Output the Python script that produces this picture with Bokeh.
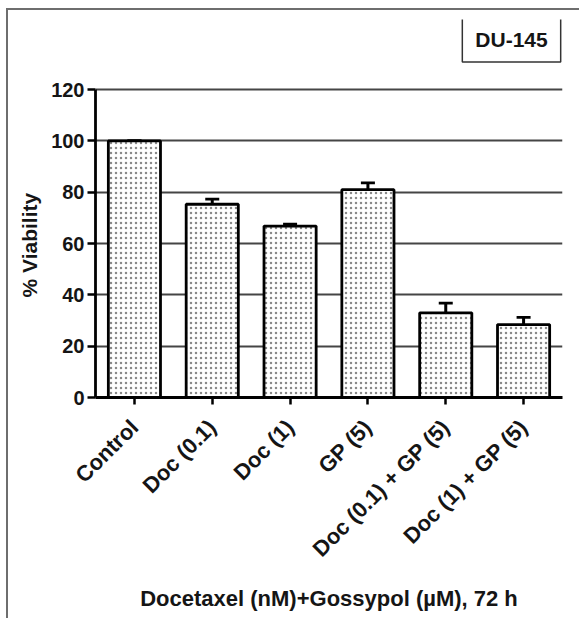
from bokeh.plotting import figure
from bokeh.models import (ColumnDataSource, FactorRange, Range1d, FixedTicker,
                          Whisker, TeeHead, Label, Title)
from bokeh.embed import file_html
from bokeh.resources import INLINE
import math

categories = ["Control", "Doc (0.1)", "Doc (1)", "GP (5)",
              "Doc (0.1) + GP (5)", "Doc (1) + GP (5)"]
viability = [100.0, 75.3, 66.8, 81.0, 33.0, 28.4]
sem = [0.0, 2.0, 0.8, 2.6, 3.8, 2.8]
y_ticks = [0, 20, 40, 60, 80, 100, 120]
cell_line = "DU-145"
x_title = "Docetaxel (nM)+Gossypol (\u00b5M), 72 h"
y_title = "% Viability"

FONT = "Liberation Sans"
INK = "#151515"

src = ColumnDataSource(dict(
    cat=categories,
    v=viability,
    lo=[v - e for v, e in zip(viability, sem)],
    hi=[v + e for v, e in zip(viability, sem)],
))

# frame extends above the 120 line so the cell-line box can sit inside it
p = figure(width=573, height=610, x_range=FactorRange(*categories),
           y_range=Range1d(0, 147.3), output_backend="svg",
           toolbar_location=None, tools="",
           min_border_left=87, min_border_right=19,
           min_border_top=9, min_border_bottom=223)
p.styles = {"margin-left": "6px", "margin-top": "8px",
            "border-left": "2px solid #6e6e6e", "border-top": "2px solid #6e6e6e"}
p.outline_line_color = None
p.background_fill_color = "white"
p.border_fill_color = "white"

p.vbar(x="cat", top="v", width=0.67, source=src, fill_color="white",
       line_color="black", line_width=2.8,
       hatch_pattern="dot", hatch_color="#8a8a8a", hatch_scale=5,
       hatch_weight=1.2)

w = Whisker(base="cat", upper="hi", lower="lo", source=src,
            line_color="black", line_width=3,
            upper_head=TeeHead(size=14, line_width=2.8, line_color="black"),
            lower_head=TeeHead(size=14, line_width=2.8, line_color="black"))
p.add_layout(w)

p.xgrid.grid_line_color = None
p.ygrid.grid_line_color = "#454545"
p.ygrid.grid_line_width = 1.8
p.ygrid.ticker = FixedTicker(ticks=y_ticks)

p.yaxis.ticker = FixedTicker(ticks=y_ticks)
p.yaxis.bounds = (0, 120)
p.yaxis.axis_line_width = 2.8
p.yaxis.axis_line_color = "black"
p.yaxis.major_tick_line_width = 2.5
p.yaxis.major_tick_out = 8
p.yaxis.major_tick_in = 0
p.yaxis.minor_tick_line_color = None
p.yaxis.major_label_text_font = FONT
p.yaxis.major_label_text_font_style = "bold"
p.yaxis.major_label_text_font_size = "20px"
p.yaxis.major_label_text_color = INK
p.yaxis.major_label_standoff = 3

# y-axis title centred on the 0-120 part of the axis
ytitle = Title(text=y_title, align="left", offset=100, vertical_align="middle",
               text_font=FONT, text_font_style="bold", text_font_size="21px",
               text_color=INK, standoff=14)
p.add_layout(ytitle, "left")

p.xaxis.axis_line_width = 3
p.xaxis.axis_line_color = "black"
p.xaxis.major_tick_line_width = 2.5
p.xaxis.major_tick_out = 7
p.xaxis.major_tick_in = 0
p.xaxis.major_label_orientation = math.pi / 4
p.xaxis.major_label_text_font = FONT
p.xaxis.major_label_text_font_style = "bold"
p.xaxis.major_label_text_font_size = "22px"
p.xaxis.major_label_text_color = INK
p.xaxis.major_label_standoff = 19
p.xaxis.axis_label = x_title
p.xaxis.axis_label_text_font = FONT
p.xaxis.axis_label_text_font_style = "bold"
p.xaxis.axis_label_text_font_size = "22px"
p.xaxis.axis_label_text_color = INK
p.xaxis.axis_label_standoff = 13

lab = Label(x=416, y=358, x_units="screen", y_units="screen", text=cell_line,
            text_font=FONT, text_font_style="bold", text_font_size="21px",
            text_color=INK,
            text_align="center", text_baseline="middle",
            border_line_color="#333333", border_line_width=1.5,
            background_fill_color="white", padding=(13, 11))
p.add_layout(lab)

open("out.html", "w").write(file_html(p, INLINE))
